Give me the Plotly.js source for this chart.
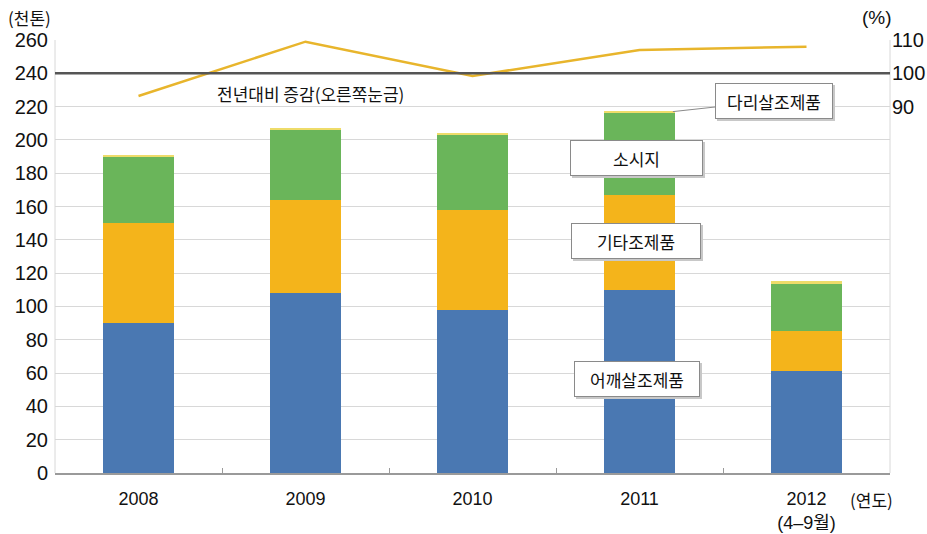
<!DOCTYPE html>
<html><head><meta charset="utf-8">
<script src="https://cdn.plot.ly/plotly-3.0.1.min.js"></script>
<style>html,body{margin:0;padding:0;background:#fff}#c{width:927px;height:534px}</style>
</head><body><div id="c"></div>
<script>
const years = ['2008','2009','2010','2011','2012<br>(4–9월)'];
const shoulder = [90, 108, 98, 110, 61];      // 어깨살조제품
const otherPrep = [60, 56, 60, 57, 24.5];     // 기타조제품
const sausage = [40, 42, 45, 49, 28];         // 소시지
const legPrep = [1, 1, 1, 1.5, 1.5];          // 다리살조제품
const yoyChange = [93.2, 109.5, 99.2, 107.0, 108.0]; // 전년대비 증감(%)
const leftTicks = [0,20,40,60,80,100,120,140,160,180,200,220,240,260];
const rightTicks = [90,100,110];

const FONT = '"Liberation Sans Narrow", "Liberation Sans", "Noto Sans CJK KR", sans-serif';
const KFONT = '"Noto Sans CJK KR", sans-serif';

const barW = 0.43;
const traces = [
  {type:'bar', name:'어깨살조제품', x:years, y:shoulder, width:barW, marker:{color:'#4A78B2'}, hoverinfo:'skip'},
  {type:'bar', name:'기타조제품', x:years, y:otherPrep, width:barW, marker:{color:'#F4B41B'}, hoverinfo:'skip'},
  {type:'bar', name:'소시지', x:years, y:sausage, width:barW, marker:{color:'#6AB55A'}, hoverinfo:'skip'},
  {type:'bar', name:'다리살조제품', x:years, y:legPrep, width:barW, marker:{color:'#EEDC6A'}, hoverinfo:'skip'},
  {type:'scatter', mode:'lines', name:'전년대비 증감', x:years, y:yoyChange, yaxis:'y2',
   line:{color:'#E8B52C', width:2.5}, hoverinfo:'skip'}
];

function box(text, x, y, w, extra) {
  const shadow = {text:'', x:x, y:y, xref:'x', yref:'y', showarrow:false, xshift:2, yshift:-2,
    bgcolor:'#c8c8c8', borderwidth:1, bordercolor:'#c8c8c8', borderpad:5, width:w, height:24};
  const main = Object.assign({text:text, x:x, y:y, xref:'x', yref:'y', showarrow:false,
    font:{family:KFONT, size:17, color:'#111'}, bgcolor:'#fff',
    bordercolor:'#8a8a8a', borderwidth:1, borderpad:5, width:w, height:24}, extra || {});
  if (extra && extra.showarrow) { shadow.xshift = extra.ax + 2; shadow.yshift = -extra.ay - 2; }
  return [shadow, main];
}

const layout = {
  width:927, height:534,
  margin:{l:55, r:37, t:40, b:61},
  paper_bgcolor:'#fff', plot_bgcolor:'#fff',
  barmode:'stack', showlegend:false,
  font:{family:FONT, size:19, color:'#111'},
  xaxis:{type:'category', showgrid:false, showline:true, linecolor:'#9a9a9a', linewidth:1.5,
    ticks:'inside', tickson:'boundaries', ticklen:5, tickcolor:'#9a9a9a',
    tickfont:{family:FONT, size:18, color:'#111'}, ticklabelstandoff:9, fixedrange:true},
  yaxis:{range:[0,260], tickvals:leftTicks, showgrid:true, gridcolor:'#d8d8d8', gridwidth:1,
    zeroline:false, showline:false, ticks:'', ticklabelstandoff:6,
    tickfont:{family:FONT, size:20, color:'#111'}},
  yaxis2:{overlaying:'y', side:'right', range:[-20,110], tickvals:rightTicks,
    showgrid:false, zeroline:false, showline:false, ticks:'', ticklabelstandoff:1,
    tickfont:{family:FONT, size:20, color:'#111'}},
  shapes:[
    {type:'line', xref:'paper', yref:'paper', x0:0, x1:0, y0:0, y1:1, line:{color:'#d8d8d8', width:1}, layer:'below'},
    {type:'line', xref:'paper', yref:'paper', x0:1, x1:1, y0:0, y1:1, line:{color:'#d8d8d8', width:1}, layer:'below'},
    {type:'line', xref:'paper', yref:'y2', x0:0, x1:1, y0:100, y1:100, line:{color:'#555', width:2.5}}
  ],
  annotations:[
    {text:'(천톤)', xref:'paper', yref:'paper', x:-0.03, y:1.051, xanchor:'center', yanchor:'middle', showarrow:false,
     font:{family:KFONT, size:17, color:'#111'}},
    {text:'(%)', xref:'paper', yref:'paper', x:0.984, y:1.051, xanchor:'center', yanchor:'middle', showarrow:false,
     font:{family:FONT, size:19, color:'#111'}},
    {text:'(연도)', xref:'paper', yref:'paper', x:0.978, y:-0.062, xanchor:'center', yanchor:'middle', showarrow:false,
     font:{family:KFONT, size:17, color:'#111'}},
    {text:'전년대비 증감(오른쪽눈금)', x:1.03, y:228, xref:'x', yref:'y', showarrow:false,
     font:{family:KFONT, size:17, color:'#111'}},
    ...box('다리살조제품', 3.2, 217, 106, {showarrow:true, arrowhead:0, arrowcolor:'#8a8a8a', arrowwidth:1, ax:101, ay:-11, standoff:0}),
    ...box('소시지', 2.98, 189, 121),
    ...box('기타조제품', 2.98, 139.3, 118),
    ...box('어깨살조제품', 2.985, 56.5, 114)
  ]
};
Plotly.newPlot('c', traces, layout, {staticPlot:true, displayModeBar:false});
</script></body></html>
